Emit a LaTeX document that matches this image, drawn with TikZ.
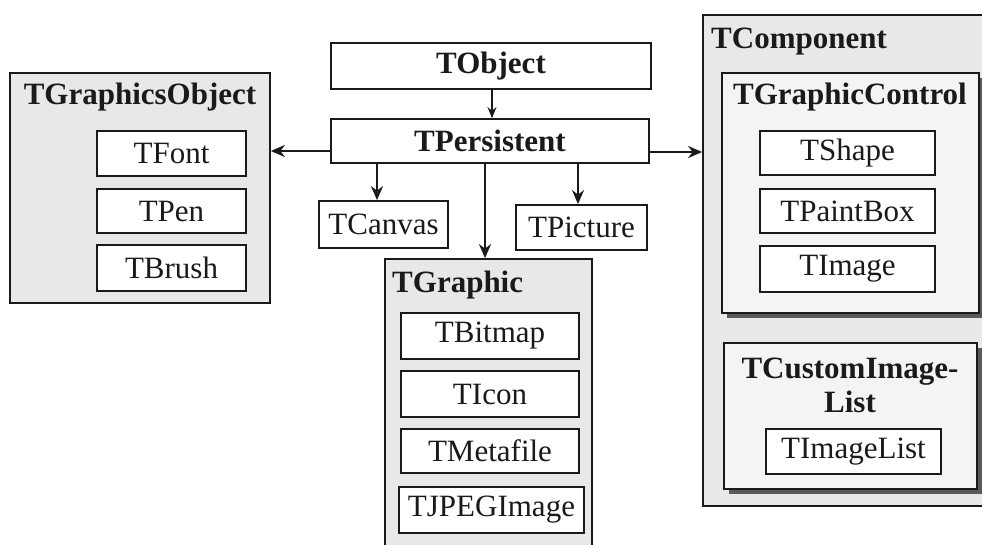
\documentclass[tikz,border=0pt]{standalone}
\usepackage{fontspec}
\setmainfont{Liberation Serif}
\usetikzlibrary{shadows,arrows.meta}
\definecolor{outerfill}{HTML}{E8E8E8}
\definecolor{innerfill}{HTML}{F4F4F4}
\definecolor{shadowc}{HTML}{5A5A5A}
\definecolor{linec}{HTML}{1A1A1A}
% \bx[style]{name}{x1}{y1}{x2}{y2}{text}
\newcommand{\bx}[7][leaf]{%
  \node[#1, minimum width={#5-#3}, minimum height={#6-#4}]
    (#2) at ({(#3+#5)/2},{(#4+#6)/2}) {#7};}
\begin{document}
\begin{tikzpicture}[x=1pt,y=-1pt,
  every node/.style={font=\fontsize{31}{34}\selectfont, text=linec},
  leaf/.style={draw=linec, line width=1.8pt, fill=white, inner sep=0pt},
  leafbold/.style={leaf, font=\fontsize{31}{34}\selectfont\bfseries},
  outerbox/.style={draw=linec, line width=1.8pt, fill=outerfill, inner sep=0pt},
  innerbox/.style={draw=linec, line width=1.8pt, fill=innerfill, inner sep=0pt,
    drop shadow={shadow xshift=5pt, shadow yshift=-5pt, fill=shadowc, opacity=1}},
  title/.style={font=\fontsize{31}{34}\selectfont\bfseries, inner sep=0pt},
  arr/.style={draw=linec, line width=2pt, -{Stealth[length=14pt,width=12pt]}},
  thinarr/.style={draw=linec, line width=1.4pt, -{Stealth[length=11pt,width=9pt]}}]
\useasboundingbox (0,0) rectangle (982,544);
\fill[white] (0,0) rectangle (982,544);

% TGraphicsObject group
\bx[outerbox]{gobj}{10}{73}{270}{303}{}
\node[title] (gobjt) at (140,97) {TGraphicsObject};
\bx{font}{97}{131}{246}{176}{TFont}
\bx{pen}{97}{189}{246}{233}{TPen}
\bx{brush}{97}{245}{246}{291}{TBrush}

% TObject / TPersistent
\bx[leafbold]{obj}{331}{43}{651}{89}{TObject}
\bx[leafbold]{pers}{331}{119}{649}{163}{TPersistent}
\bx{canvas}{319}{201}{448}{248}{TCanvas}
\bx{picture}{516}{205}{647}{250}{TPicture}

% TGraphic group
\bx[outerbox]{graphic}{385}{259}{592}{570}{}
\node[title, anchor=west] (graphict) at (392,285) {TGraphic};
\bx{bitmap}{401}{313}{579}{359}{TBitmap}
\bx{icon}{401}{371}{579}{417}{TIcon}
\bx{meta}{401}{429}{579}{473}{TMetafile}
\bx{jpeg}{399}{487}{584}{533}{TJPEGImage}

% TComponent group
\bx[outerbox]{comp}{703}{15}{995}{506}{}
\node[title, anchor=west] (compt) at (711,42) {TComponent};
\bx[innerbox]{gctrl}{722}{73}{979}{313}{}
\node[title] (gctrlt) at (850,97) {TGraphicControl};
\bx{shape}{760}{131}{935}{175}{TShape}
\bx{paint}{760}{189}{935}{233}{TPaintBox}
\bx{image}{760}{246}{935}{292}{TImage}
\bx[innerbox]{cil}{724}{343}{977}{489}{}
\node[title, align=center] (cilt) at (850,385) {TCustomImage-\\List};
\bx{ilist}{766}{429}{941}{474}{TImageList}

% connectors
\draw[thinarr] ([xshift=1pt]obj.south) -- ([xshift=1pt]obj.south |- pers.north);
\draw[arr] ([yshift=-10pt]pers.west) -- ([yshift=-10pt]pers.west -| gobj.east);
\draw[arr] ([yshift=-11pt]pers.east) -- ([yshift=-11pt]pers.east -| comp.west);
\draw[arr] ([xshift=-6.5pt]canvas.north |- pers.south) -- ([xshift=-6.5pt]canvas.north);
\draw[arr] ([xshift=-3.5pt]graphic.north |- pers.south) -- ([xshift=-3.5pt]graphic.north);
\draw[arr] ([xshift=-3.5pt]picture.north |- pers.south) -- ([xshift=-3.5pt]picture.north);
\end{tikzpicture}
\end{document}
